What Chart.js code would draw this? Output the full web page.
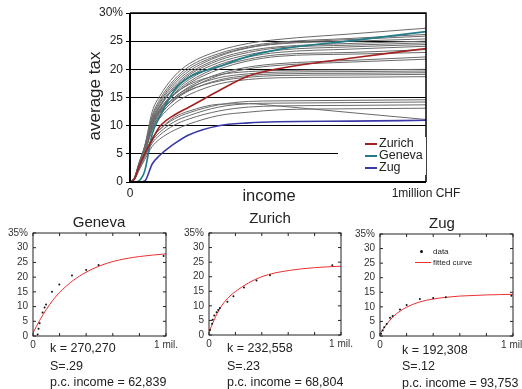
<!DOCTYPE html>
<html>
<head>
<meta charset="utf-8">
<script src="https://cdn.jsdelivr.net/npm/chart.js@4.4.1/dist/chart.umd.min.js"></script>
<style>
  body { margin:0; background:#fff; width:522px; height:389px; overflow:hidden; position:relative;
         font-family:"Liberation Sans", Arial, sans-serif; color:#222; }
  canvas { position:absolute; }
  .lbl { position:absolute; white-space:nowrap; line-height:1; }
  #legend { position:absolute; left:338px; top:137px; width:88px; height:38px; background:#fff; }
  .row { position:absolute; left:41px; font-size:12.5px; line-height:1; white-space:nowrap; }
  .row i { position:absolute; left:-14px; top:6px; width:12px; height:2px; }
</style>
</head>
<body>
<canvas id="main" width="522" height="205" style="left:0;top:0"></canvas>
<canvas id="geneva"></canvas>
<canvas id="zurich"></canvas>
<canvas id="zug"></canvas>
<div id="legend">
  <div class="row" style="top:0px"><i style="background:#a3201f"></i>Zurich</div>
  <div class="row" style="top:12px"><i style="background:#1f7c88"></i>Geneva</div>
  <div class="row" style="top:24px"><i style="background:#3a3aa6"></i>Zug</div>
</div>
<script>
// income in thousands of CHF, average tax in %
const incomeK = [0, 15, 30, 50, 75, 100, 150, 200, 300, 400, 500, 750, 1000];
const zurichTax = [0, 0.5, 2.7, 5.0, 7.5, 9.8, 11.9, 13.3, 16.2, 18.8, 20.1, 22.0, 23.7];
const genevaTax = [0, 0, 0.2, 2.0, 8.5, 11.5, 16.3, 18.6, 20.5, 22.3, 23.5, 25.1, 26.7];
const zugTax    = [0, 0, 0, 0.2, 3.2, 4.7, 6.8, 8.4, 10.0, 10.5, 10.7, 10.8, 10.95];

// the other cantons (grey)
const otherCantonsTax = [
  [0, 0.8, 3.2, 6.5, 12.5, 15.2, 18.8, 21.0, 23.3, 24.6, 25.3, 26.3, 27.3],
  [0, 0.7, 3.0, 6.2, 11.8, 14.6, 18.2, 20.5, 22.8, 24.1, 24.8, 25.5, 26.2],
  [0, 0.6, 3.0, 6.0, 11.5, 14.2, 17.8, 20.1, 22.5, 23.9, 24.6, 25.3, 25.9],
  [0, 0.8, 3.4, 6.4, 11.2, 13.9, 17.4, 19.7, 22.3, 23.8, 24.5, 25.0, 25.4],
  [0, 0.6, 2.8, 5.8, 10.8, 13.5, 17.0, 19.3, 21.9, 23.3, 24.0, 24.6, 25.0],
  [0, 0.5, 2.6, 5.6, 10.5, 13.2, 16.7, 19.0, 21.6, 23.0, 23.8, 24.3, 24.7],
  [0, 0.7, 3.1, 6.1, 10.9, 13.4, 16.6, 18.7, 21.2, 22.6, 23.4, 24.0, 24.4],
  [0, 0.6, 2.7, 5.5, 10.2, 12.8, 16.0, 18.2, 20.8, 22.2, 23.0, 23.6, 24.1],
  [0, 0.5, 2.5, 5.3, 9.9, 12.5, 15.7, 17.8, 20.4, 21.8, 22.6, 23.0, 23.5],
  [0, 0.7, 2.9, 5.9, 10.3, 12.6, 15.5, 17.5, 20.0, 21.5, 22.3, 22.7, 23.0],
  [0, 0.6, 2.6, 5.4, 9.8, 12.1, 15.0, 16.9, 19.2, 20.4, 21.0, 21.6, 22.2],
  [0, 0.5, 2.4, 5.1, 9.4, 11.7, 14.6, 16.5, 18.9, 20.1, 20.7, 21.3, 21.8],
  [0, 0.7, 3.0, 6.0, 10.6, 12.9, 15.6, 17.3, 19.0, 19.6, 19.8, 19.9, 20.0],
  [0, 0.6, 2.7, 5.6, 10.0, 12.3, 15.0, 16.7, 18.5, 19.2, 19.5, 19.6, 19.7],
  [0, 0.5, 2.5, 5.2, 9.5, 11.8, 14.5, 16.2, 18.1, 18.9, 19.2, 19.3, 19.4],
  [0, 0.8, 3.2, 6.2, 10.4, 12.4, 14.8, 16.3, 17.9, 18.6, 18.9, 19.0, 19.1],
  [0, 0.6, 2.6, 5.3, 9.2, 11.3, 13.9, 15.5, 17.4, 18.2, 18.5, 18.6, 18.7],
  [0, 0.6, 2.6, 5.0, 7.8, 9.3, 11.2, 12.3, 13.7, 14.3, 14.4, 14.5, 14.6],
  [0, 0.5, 2.4, 4.7, 7.3, 8.8, 10.7, 11.8, 13.3, 13.9, 14.0, 14.1, 14.2],
  [0, 0.5, 2.2, 4.4, 6.9, 8.3, 10.1, 11.2, 12.6, 13.3, 13.5, 13.6, 13.7],
  [0, 0.4, 2.0, 4.0, 6.3, 7.6, 9.2, 10.3, 11.8, 12.4, 12.8, 13.0, 13.1],
  [0, 0.6, 2.6, 5.0, 7.8, 9.3, 11.5, 12.6, 13.8, 13.9, 13.5, 12.3, 11.1]
];
const mainTaxTicks = [0, 5, 10, 15, 20, 25, 30];

// lower panels: fitted curve + observed points
const fitIncomeK = [0, 50, 100, 150, 200, 300, 400, 500, 600, 700, 800, 900, 1000];
const genevaFit = [1.0, 5.3, 9.0, 12.2, 14.8, 18.8, 21.7, 23.8, 25.3, 26.3, 27.0, 27.5, 27.9];
const genevaObsK = [35, 42, 50, 72, 87, 98, 143, 198, 293, 400, 493, 982];
const genevaObsTax = [0.5, 2.5, 4.3, 8.0, 9.7, 10.7, 15.0, 17.5, 20.6, 22.4, 24.1, 27.2];
const zurichFit = [1.0, 6.3, 10.3, 13.0, 14.9, 17.9, 20.0, 21.3, 22.1, 22.7, 23.1, 23.4, 23.6];
const zurichObsK = [8, 23, 28, 40, 58, 70, 83, 139, 185, 265, 360, 462, 934];
const zurichObsTax = [1.7, 3.9, 5.2, 6.7, 7.8, 8.6, 9.3, 11.4, 13.3, 16.3, 18.7, 20.5, 23.9];
const zugFit = [0.8, 4.0, 6.7, 8.5, 9.9, 11.7, 12.7, 13.3, 13.7, 13.9, 14.1, 14.2, 14.3];
const zugObsK = [8, 20, 32, 50, 75, 95, 150, 200, 300, 400, 495, 988];
const zugObsTax = [0.8, 1.9, 3.0, 4.1, 6.3, 6.9, 9.1, 10.6, 12.7, 13.0, 13.3, 13.8];
const subTaxTicks = [0, 5, 10, 15, 20, 25, 30, 35];
const subIncomeTicks = [0, 200, 400, 600, 800, 1000];

const pts = (xs, ys) => xs.map((x, i) => ({ x: x, y: ys[i] }));

function label(text, x, cy, size, center) {
  const d = document.createElement('div');
  d.className = 'lbl';
  d.textContent = text;
  d.style.left = x + 'px';
  d.style.top = cy + 'px';
  d.style.fontSize = size + 'px';
  d.style.transform = center ? 'translate(-50%,-50%)' : 'translateY(-50%)';
  document.body.appendChild(d);
  return d;
}

// frame around the big plot
const mainFrame = {
  id: 'mainFrame',
  afterDatasetsDraw(chart) {
    const { ctx, chartArea: a } = chart;
    ctx.save();
    ctx.strokeStyle = '#000';
    ctx.lineWidth = 1.5;
    ctx.beginPath();
    ctx.moveTo(a.left, a.top); ctx.lineTo(a.right, a.top); ctx.lineTo(a.right, a.bottom);
    ctx.stroke();
    ctx.lineWidth = 2;
    ctx.beginPath();
    ctx.moveTo(a.left, a.top); ctx.lineTo(a.left, a.bottom); ctx.lineTo(a.right, a.bottom);
    ctx.stroke();
    ctx.restore();
  }
};

const mainSets = [
  { data: pts(incomeK, zurichTax), borderColor: '#a3201f', borderWidth: 1.6 },
  { data: pts(incomeK, genevaTax), borderColor: '#1f7c88', borderWidth: 1.6 },
  { data: pts(incomeK, zugTax), borderColor: '#3a3aa6', borderWidth: 1.6 }
];
otherCantonsTax.forEach(c => mainSets.push({ data: pts(incomeK, c), borderColor: '#6a6a6a', borderWidth: 1 }));

new Chart(document.getElementById('main'), {
  type: 'line',
  data: { datasets: mainSets },
  options: {
    responsive: false,
    animation: false,
    layout: { padding: { left: 0, right: 96, top: 13, bottom: 0 } },
    elements: { point: { radius: 0 }, line: { cubicInterpolationMode: 'monotone' } },
    plugins: { legend: { display: false }, tooltip: { enabled: false } },
    scales: {
      x: {
        type: 'linear', min: 0, max: 1000,
        afterFit: s => { s.height = 23; },
        afterBuildTicks: s => { s.ticks = [{ value: 0 }, { value: 1000 }]; },
        grid: { display: false, drawTicks: false },
        border: { display: false },
        ticks: { color: '#222', font: { family: 'Liberation Sans', size: 12 }, padding: 4, maxRotation: 0,
                 callback: v => v === 0 ? '0' : '1million CHF' }
      },
      y: {
        min: 0, max: 30,
        afterFit: s => { s.width = 130; },
        afterBuildTicks: s => { s.ticks = mainTaxTicks.map(v => ({ value: v })); },
        grid: { color: '#000', lineWidth: 1, tickLength: 4 },
        border: { display: false },
        ticks: { color: '#222', font: { family: 'Liberation Sans', size: 12 }, padding: 3,
                 callback: v => v === 30 ? '30%' : v }
      }
    }
  },
  plugins: [mainFrame]
});

// lower panels
const boxTicks = {
  id: 'boxTicks',
  afterDatasetsDraw(chart) {
    const { ctx, chartArea: a, scales: { x, y } } = chart;
    ctx.save();
    ctx.strokeStyle = '#222';
    ctx.lineWidth = 1;
    ctx.strokeRect(a.left, a.top, a.right - a.left, a.bottom - a.top);
    ctx.beginPath();
    y.ticks.forEach(t => {
      const py = y.getPixelForValue(t.value);
      ctx.moveTo(a.left, py); ctx.lineTo(a.left + 3, py);
      ctx.moveTo(a.right, py); ctx.lineTo(a.right - 3, py);
    });
    x.ticks.forEach(t => {
      const px = x.getPixelForValue(t.value);
      ctx.moveTo(px, a.bottom); ctx.lineTo(px, a.bottom - 3);
      ctx.moveTo(px, a.top); ctx.lineTo(px, a.top + 3);
    });
    ctx.stroke();
    ctx.restore();
  }
};

function makeSub(id, box, fit, obsX, obsY) {
  const cv = document.getElementById(id);
  const padL = 32, padT = 8, padR = 18, padB = 22;
  cv.width = box.r - box.l + padL + padR;
  cv.height = box.b - box.t + padT + padB;
  cv.style.left = (box.l - padL) + 'px';
  cv.style.top = (box.t - padT) + 'px';
  new Chart(cv, {
    type: 'line',
    data: {
      datasets: [
        { type: 'scatter', data: pts(obsX, obsY), pointRadius: 1, backgroundColor: '#111', borderWidth: 0 },
        { data: pts(fitIncomeK, fit), borderColor: '#ec3030', borderWidth: 1, pointRadius: 0,
          cubicInterpolationMode: 'monotone' }
      ]
    },
    options: {
      responsive: false,
      animation: false,
      layout: { padding: { left: 0, right: padR, top: padT, bottom: 0 } },
      plugins: { legend: { display: false }, tooltip: { enabled: false } },
      scales: {
        x: {
          type: 'linear', min: 0, max: 1000,
          afterFit: s => { s.height = padB; },
          afterBuildTicks: s => { s.ticks = subIncomeTicks.map(v => ({ value: v })); },
          grid: { display: false, drawTicks: false }, border: { display: false },
          ticks: { autoSkip: false, maxRotation: 0, padding: 3, color: '#333',
                   font: { family: 'Liberation Sans', size: 10 },
                   callback: v => v === 0 ? '0' : (v === 1000 ? '1 mil.' : '') }
        },
        y: {
          min: 0, max: 35,
          afterFit: s => { s.width = padL; },
          afterBuildTicks: s => { s.ticks = subTaxTicks.map(v => ({ value: v })); },
          grid: { display: false, drawTicks: false }, border: { display: false },
          ticks: { autoSkip: false, padding: 5, color: '#333',
                   font: { family: 'Liberation Sans', size: 10 },
                   callback: v => v === 35 ? '35%' : v }
        }
      }
    },
    plugins: [boxTicks]
  });
}

makeSub('geneva', { l: 33, t: 230, r: 166, b: 336 }, genevaFit, genevaObsK, genevaObsTax);
makeSub('zurich', { l: 209, t: 230, r: 341, b: 335 }, zurichFit, zurichObsK, zurichObsTax);
makeSub('zug', { l: 380, t: 231, r: 513, b: 336 }, zugFit, zugObsK, zugObsTax);

// axis titles of the big plot
const yTitle = label('average tax', 94, 96, 17, true);
yTitle.style.transform = 'translate(-50%,-50%) rotate(-90deg)';
label('income', 269, 195, 16.5, true);

// panel titles and notes
label('Geneva', 99, 221, 15, true);
label('Zurich', 270, 217, 15, true);
label('Zug', 442, 222, 15, true);

label('k = 270,270', 50, 348, 12.5);
label('S=.29', 50, 366, 12.5);
label('p.c. income = 62,839', 50, 382, 12.5);
label('k = 232,558', 227, 348, 12.5);
label('S=.23', 227, 366, 12.5);
label('p.c. income = 68,804', 227, 382, 12.5);
label('k = 192,308', 402, 350, 12.5);
label('S=.12', 402, 366, 12.5);
label('p.c. income = 93,753', 402, 383, 12.5);

// small legend inside the Zug panel
label('data', 433, 252, 8);
label('fitted curve', 433, 263, 8);
const dot = document.createElement('div');
dot.style.cssText = 'position:absolute;left:420px;top:250px;width:3px;height:3px;border-radius:50%;background:#111';
document.body.appendChild(dot);
const dash = document.createElement('div');
dash.style.cssText = 'position:absolute;left:415px;top:262px;width:16px;height:1px;background:#ec3030';
document.body.appendChild(dash);
</script>
</body>
</html>
